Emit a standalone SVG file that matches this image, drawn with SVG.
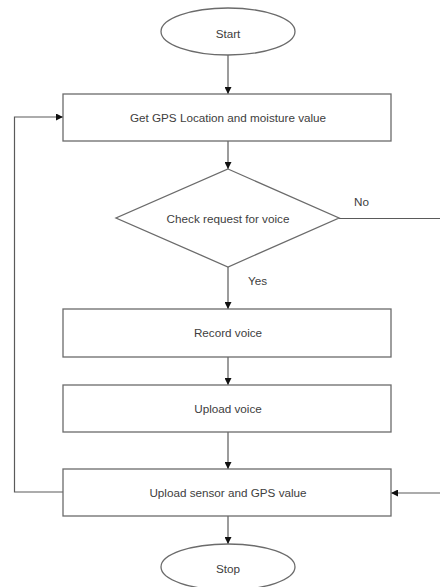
<svg xmlns="http://www.w3.org/2000/svg" width="440" height="587" viewBox="0 0 440 587">
  <style>
    .shape { fill: #ffffff; stroke: #6b6b6b; stroke-width: 1.3; }
    .edge { fill: none; stroke: #5a5a5a; stroke-width: 1.2; }
    .label { font-family: "Liberation Sans", Arial, sans-serif; font-size: 11.7px; fill: #404040; text-anchor: middle; dominant-baseline: central; }
    .tag { font-family: "Liberation Sans", Arial, sans-serif; font-size: 11.7px; fill: #404040; }
  </style>
  <defs>
    <marker id="arrow" viewBox="0 0 10 10" refX="10" refY="5" markerWidth="7" markerHeight="7" markerUnits="userSpaceOnUse" orient="auto">
      <path d="M0,0 L10,5 L0,10 Z" fill="#111111"/>
    </marker>
  </defs>
  <rect width="440" height="587" fill="#ffffff"/>

  <!-- connectors -->
  <g id="connectors">
    <line class="edge" x1="228" y1="55" x2="228" y2="94" marker-end="url(#arrow)"/>
    <line class="edge" x1="228" y1="141" x2="228" y2="169" marker-end="url(#arrow)"/>
    <line class="edge" x1="228" y1="267" x2="228" y2="309" marker-end="url(#arrow)"/>
    <line class="edge" x1="228" y1="357" x2="228" y2="385" marker-end="url(#arrow)"/>
    <line class="edge" x1="228" y1="432" x2="228" y2="469" marker-end="url(#arrow)"/>
    <line class="edge" x1="228" y1="516" x2="228" y2="544" marker-end="url(#arrow)"/>
    <!-- No branch -->
    <line class="edge" x1="339" y1="218.5" x2="441" y2="218.5"/>
    <line class="edge" x1="441" y1="493" x2="391" y2="493" marker-end="url(#arrow)"/>
    <!-- loop back -->
    <polyline class="edge" points="63,492 14.5,492 14.5,117 63,117" marker-end="url(#arrow)"/>
    <text class="tag" x="354" y="206">No</text>
    <text class="tag" x="248" y="285">Yes</text>
  </g>

  <g id="start">
    <ellipse class="shape" cx="228" cy="31.5" rx="67" ry="23.5"/>
    <text class="label" x="228" y="33">Start</text>
  </g>

  <g id="get-gps">
    <rect class="shape" x="63" y="94" width="328" height="47"/>
    <text class="label" x="228" y="117">Get GPS Location and moisture value</text>
  </g>

  <g id="check-request">
    <polygon class="shape" points="228,169 339,218 228,267 116,218"/>
    <text class="label" x="228" y="218">Check request for voice</text>
  </g>

  <g id="record-voice">
    <rect class="shape" x="63" y="309" width="328" height="48"/>
    <text class="label" x="228" y="332">Record voice</text>
  </g>

  <g id="upload-voice">
    <rect class="shape" x="63" y="385" width="328" height="47"/>
    <text class="label" x="228" y="408">Upload voice</text>
  </g>

  <g id="upload-sensor">
    <rect class="shape" x="63" y="469" width="328" height="47"/>
    <text class="label" x="228" y="492">Upload sensor and GPS value</text>
  </g>

  <g id="stop">
    <ellipse class="shape" cx="228" cy="567" rx="67" ry="23"/>
    <text class="label" x="228" y="568">Stop</text>
  </g>
</svg>
